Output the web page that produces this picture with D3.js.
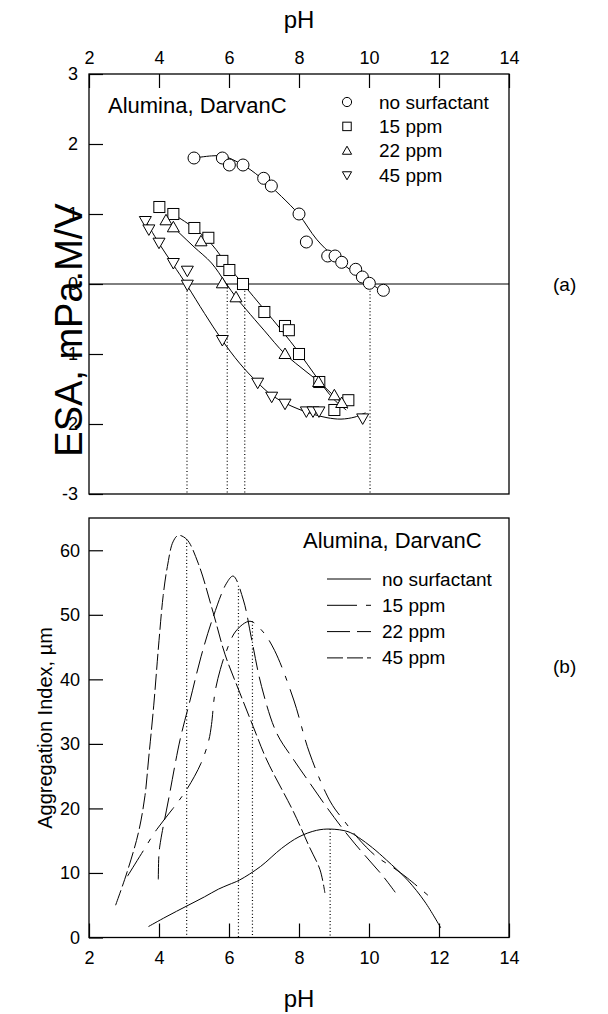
<!DOCTYPE html>
<html>
<head>
<meta charset="utf-8">
<script src="https://cdn.jsdelivr.net/npm/d3@7"></script>
<style>
  body { margin: 0; background: #fff; }
  svg { display: block; font-family: "Liberation Sans", Arial, sans-serif; }
  .axis text { font-size: 18px; fill: #000; }
  .axis line { stroke: #000; stroke-width: 1.2; }
</style>
</head>
<body>
<div id="chart"></div>
<script>
// ---- data ----
const pHTicks = [2, 4, 6, 8, 10, 12, 14];
const esaTicks = [-3, -2, -1, 0, 1, 2, 3];
const aggTicks = [0, 10, 20, 30, 40, 50, 60];
const seriesNames = ["no surfactant", "15 ppm", "22 ppm", "45 ppm"];
const markerKinds = ["circle", "square", "up", "down"];

// (a) ESA measurements [pH, ESA]
const esaNone = [[5.0,1.80],[5.81,1.80],[6.01,1.70],[6.40,1.70],[6.99,1.51],[7.21,1.40],[8.0,1.0],[8.21,0.60],
  [8.82,0.40],[9.03,0.40],[9.22,0.31],[9.62,0.21],[9.81,0.10],[10.01,0.01],[10.41,-0.09]];
const esa15 = [[4.01,1.10],[4.41,1.00],[5.01,0.80],[5.41,0.66],[5.81,0.33],[6.01,0.20],[6.40,0.0],[7.01,-0.40],
  [7.6,-0.60],[7.71,-0.66],[8.0,-1.0],[8.58,-1.40],[9.01,-1.80],[9.41,-1.66]];
const esa22 = [[4.2,0.91],[4.41,0.81],[5.2,0.61],[5.81,0.01],[6.2,-0.19],[7.6,-1.0],[8.56,-1.40],[9.01,-1.59],[9.22,-1.70]];
const esa45 = [[3.61,0.90],[3.71,0.78],[4.0,0.59],[4.41,0.30],[4.81,0.19],[4.81,-0.01],[5.81,-0.80],[6.82,-1.41],
  [7.22,-1.61],[7.6,-1.71],[8.21,-1.82],[8.4,-1.82],[8.57,-1.82],[9.82,-1.92]];

// (a) fitted curves
const fitNone = [[5.0,1.80],[5.5,1.83],[5.8,1.83],[6.0,1.80],[6.5,1.67],[7.0,1.48],[7.5,1.25],[8.0,0.99],
  [8.5,0.64],[9.0,0.39],[9.5,0.19],[10.0,0.02],[10.25,-0.06]];
const fit15 = [[4.4,1.0],[5.0,0.80],[5.5,0.57],[6.0,0.24],[6.4,0.0],[7.0,-0.36],[7.5,-0.66],[8.0,-0.98],
  [8.5,-1.33],[9.0,-1.65],[9.35,-1.80]];
const fit22 = [[4.2,0.91],[4.6,0.72],[5.0,0.53],[5.5,0.30],[5.9,0.02],[6.2,-0.19],[6.5,-0.37],[7.0,-0.66],
  [7.6,-1.0],[8.2,-1.25],[8.6,-1.41],[9.0,-1.60],[9.4,-1.78]];
const fit45 = [[3.6,0.92],[4.0,0.58],[4.4,0.28],[4.8,-0.02],[5.3,-0.42],[5.8,-0.80],[6.3,-1.13],[6.8,-1.40],
  [7.2,-1.58],[7.6,-1.70],[8.0,-1.79],[8.4,-1.86],[8.8,-1.91],[9.2,-1.93],[9.6,-1.90],[9.9,-1.84]];

// isoelectric points (dotted lines in a)
const iepA = [4.8, 5.95, 6.45, 10.03];

// (b) aggregation index curves [pH, µm]
const aggNone = [[3.7,1.7],[4.2,3.2],[4.8,4.9],[5.3,6.3],[5.7,7.5],[6.0,8.2],[6.3,8.9],[6.9,11.0],[7.5,13.8],
  [8.0,15.6],[8.5,16.6],[8.9,16.8],[9.4,16.4],[9.7,15.5],[10.1,13.9],[10.5,12.0],[11.1,8.9],[11.6,5.5],[12.05,1.5]];
const agg15 = [[3.1,9.5],[3.5,13],[3.93,16.7],[4.4,20],[4.8,23],[5.2,27],[5.42,30.5],[5.5,33],[5.6,38],
  [5.75,41.5],[5.9,44],[6.2,47.5],[6.6,49],[6.95,47.5],[7.3,44.5],[7.85,36.8],[8.3,28.6],[8.9,21],[9.3,18],
  [9.7,15.3],[10.2,12.6],[10.7,10.8],[11.1,9.2],[11.8,6]];
const agg22 = [[3.98,9],[4.0,13],[4.05,15.1],[4.27,21.3],[4.6,30.6],[4.89,36.8],[5.2,43.5],[5.55,49.7],[5.93,54.9],
  [6.12,56],[6.41,52.3],[6.65,46.1],[6.93,38.9],[7.36,31.7],[7.84,27.6],[8.3,24],[8.75,20.5],[9.2,17.2],
  [9.6,14.5],[10.0,12],[10.4,9.5],[10.75,7]];
const agg45 = [[2.76,5],[3.08,10],[3.41,16.2],[3.6,22],[3.7,27.5],[3.85,36],[4.0,46],[4.12,53],[4.24,57.5],
  [4.4,61.3],[4.55,62.3],[4.79,61.7],[5.12,58],[5.55,50.3],[5.89,43.8],[6.31,37.9],[6.69,32.7],[7.08,27.5],
  [7.84,19.5],[8.3,14],[8.6,10.5],[8.74,6.9]];

// peaks marked with dotted lines in b
const peaksB = [[4.79,61.7],[6.27,54.5],[6.67,49],[8.89,16.8]];

const dashes = [null, "30,9,5,9", "23,7", "16,4"];

// ---- layout ----
const width = 608, height = 1014;
const svg = d3.select("#chart").append("svg")
  .attr("width", width)
  .attr("height", height);

const x = d3.scaleLinear().domain([2, 14]).range([89, 509]);
const yTop = d3.scaleLinear().domain([-3, 3]).range([494, 74]);
const yBot = d3.scaleLinear().domain([0, 65]).range([937.5, 518]);
const plain = d => String(d);

function drawMarker(g, kind, s) {
  if (kind === "circle") g.append("circle").attr("r", s);
  else if (kind === "square") g.append("rect").attr("x", -s * 0.92).attr("y", -s * 0.92)
    .attr("width", s * 1.84).attr("height", s * 1.84);
  else if (kind === "up") g.append("path").attr("d", `M0,${-s}L${s},${s * 0.75}L${-s},${s * 0.75}Z`);
  else g.append("path").attr("d", `M0,${s}L${s},${-s * 0.75}L${-s},${-s * 0.75}Z`);
}

// ===== panel (a) =====
const panelA = svg.append("g");

panelA.append("g")
  .attr("class", "axis")
  .attr("transform", "translate(0,74)")
  .call(d3.axisTop(x).tickValues(pHTicks).tickFormat(plain).tickSizeInner(-14).tickSizeOuter(0).tickPadding(10))
  .call(g => g.select(".domain").remove());

panelA.append("g")
  .attr("class", "axis")
  .attr("transform", "translate(89,0)")
  .call(d3.axisLeft(yTop).tickValues(esaTicks).tickFormat(plain).tickSizeInner(-14).tickSizeOuter(0).tickPadding(11))
  .call(g => g.select(".domain").remove());

panelA.append("rect")
  .attr("x", x(2)).attr("y", yTop(3))
  .attr("width", x(14) - x(2)).attr("height", yTop(-3) - yTop(3))
  .attr("fill", "none").attr("stroke", "#000").attr("stroke-width", 1.3);

// zero line
panelA.append("line")
  .attr("x1", x(2)).attr("x2", x(14))
  .attr("y1", yTop(0)).attr("y2", yTop(0))
  .attr("stroke", "#000").attr("stroke-width", 1);

panelA.selectAll(".iep")
  .data(iepA)
  .enter().append("line")
  .attr("x1", d => x(d)).attr("x2", d => x(d))
  .attr("y1", yTop(0)).attr("y2", yTop(-3))
  .attr("stroke", "#000").attr("stroke-width", 1.2)
  .attr("stroke-dasharray", "1,2.4");

const lineTop = d3.line()
  .x(d => x(d[0])).y(d => yTop(d[1]))
  .curve(d3.curveCatmullRom.alpha(0.5));

[fitNone, fit15, fit22, fit45].forEach(f => {
  panelA.append("path").attr("d", lineTop(f))
    .attr("fill", "none").attr("stroke", "#000").attr("stroke-width", 1);
});

[esaNone, esa15, esa22, esa45].forEach((pts, i) => {
  panelA.append("g")
    .selectAll("g")
    .data(pts)
    .enter().append("g")
    .attr("transform", d => `translate(${x(d[0])},${yTop(d[1])})`)
    .attr("fill", "#fff").attr("stroke", "#000").attr("stroke-width", 1)
    .each(function () { drawMarker(d3.select(this), markerKinds[i], 6); });
});

panelA.append("text")
  .attr("x", 108).attr("y", 113)
  .attr("font-size", 22)
  .text("Alumina, DarvanC");

const legA = panelA.append("g");
seriesNames.forEach((name, i) => {
  const cy = 102 + i * 24.4;
  const g = legA.append("g")
    .attr("transform", `translate(347,${cy})`)
    .attr("fill", "#fff").attr("stroke", "#000").attr("stroke-width", 1);
  drawMarker(g, markerKinds[i], 4.6);
  legA.append("text").attr("x", 379).attr("y", cy + 6.5)
    .attr("font-size", 19).text(name);
});

panelA.append("text")
  .attr("x", 299).attr("y", 28)
  .attr("text-anchor", "middle")
  .attr("font-size", 24)
  .text("pH");

panelA.append("text")
  .attr("transform", "translate(82,330) rotate(-90)")
  .attr("text-anchor", "middle")
  .attr("font-size", 38)
  .text("ESA, mPa.M/V");

svg.append("text")
  .attr("x", 553).attr("y", 291)
  .attr("font-size", 19)
  .text("(a)");

// ===== panel (b) =====
const panelB = svg.append("g");

panelB.append("g")
  .attr("class", "axis")
  .attr("transform", "translate(0,937.5)")
  .call(d3.axisBottom(x).tickValues(pHTicks).tickFormat(plain).tickSizeInner(-14).tickSizeOuter(0).tickPadding(14))
  .call(g => g.select(".domain").remove());

panelB.append("g")
  .attr("class", "axis")
  .attr("transform", "translate(89,0)")
  .call(d3.axisLeft(yBot).tickValues(aggTicks).tickFormat(plain).tickSizeInner(-14).tickSizeOuter(0).tickPadding(9))
  .call(g => g.select(".domain").remove());

panelB.append("rect")
  .attr("x", x(2)).attr("y", yBot(65))
  .attr("width", x(14) - x(2)).attr("height", yBot(0) - yBot(65))
  .attr("fill", "none").attr("stroke", "#000").attr("stroke-width", 1.3);

panelB.selectAll(".peak")
  .data(peaksB)
  .enter().append("line")
  .attr("x1", d => x(d[0])).attr("x2", d => x(d[0]))
  .attr("y1", d => yBot(d[1])).attr("y2", yBot(0))
  .attr("stroke", "#000").attr("stroke-width", 1.2)
  .attr("stroke-dasharray", "1,2.4");

const lineBot = d3.line()
  .x(d => x(d[0])).y(d => yBot(d[1]))
  .curve(d3.curveCatmullRom.alpha(0.5));

[aggNone, agg15, agg22, agg45].forEach((c, i) => {
  panelB.append("path").attr("d", lineBot(c))
    .attr("fill", "none").attr("stroke", "#000").attr("stroke-width", 1)
    .attr("stroke-dasharray", dashes[i]);
});

panelB.append("text")
  .attr("x", 303).attr("y", 548)
  .attr("font-size", 22)
  .text("Alumina, DarvanC");

seriesNames.forEach((name, i) => {
  const cy = 579 + i * 26.3;
  panelB.append("line")
    .attr("x1", 327).attr("x2", 371)
    .attr("y1", cy).attr("y2", cy)
    .attr("stroke", "#000").attr("stroke-width", 1)
    .attr("stroke-dasharray", dashes[i]);
  panelB.append("text").attr("x", 382).attr("y", cy + 6.5)
    .attr("font-size", 19).text(name);
});

panelB.append("text")
  .attr("x", 299).attr("y", 1007)
  .attr("text-anchor", "middle")
  .attr("font-size", 24)
  .text("pH");

panelB.append("text")
  .attr("transform", "translate(52,728) rotate(-90)")
  .attr("text-anchor", "middle")
  .attr("font-size", 20)
  .text("Aggregation Index, µm");

svg.append("text")
  .attr("x", 553).attr("y", 673)
  .attr("font-size", 19)
  .text("(b)");
</script>
</body>
</html>
